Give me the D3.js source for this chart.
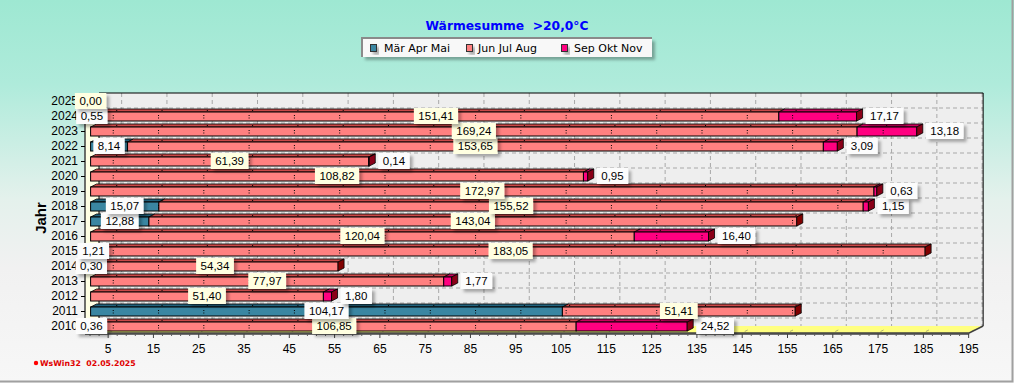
<!DOCTYPE html>
<html>
<head>
<meta charset="utf-8">
<script src="https://cdn.jsdelivr.net/npm/d3@7"></script>
<style>
  html, body { margin: 0; padding: 0; }
  body { width: 1014px; height: 383px; overflow: hidden; }
  svg { display: block; }
</style>
</head>
<body>
<div id="chart"></div>
<script>
// Wärmesumme >20,0°C per season, one stacked 3D bar per year
const years = ['2010', '2011', '2012', '2013', '2014', '2015', '2016', '2017',
  '2018', '2019', '2020', '2021', '2022', '2023', '2024', '2025'];
const marAprMai = [0.36, 104.17, null, null, 0.30, 1.21, null, 12.88,
  15.07, null, null, null, 8.14, null, 0.55, 0.00];
const junJulAug = [106.85, 51.41, 51.40, 77.97, 54.34, 183.05, 120.04, 143.04,
  155.52, 172.97, 108.82, 61.39, 153.65, 169.24, 151.41, null];
const sepOktNov = [24.52, null, 1.80, 1.77, null, null, 16.40, null,
  1.15, 0.63, 0.95, 0.14, 3.09, 13.18, 17.17, null];
const seriesNames = ['Mär Apr Mai', 'Jun Jul Aug', 'Sep Okt Nov'];
const xTickValues = [5, 15, 25, 35, 45, 55, 65, 75, 85, 95, 105, 115, 125, 135, 145, 155, 165, 175, 185, 195];

// colours per season: front face, top face, end cap
const seriesStyle = [
  { front: '#3a86a2', top: '#22627c', cap: '#123e50' },
  { front: '#ff8080', top: '#c84848', cap: '#800000' },
  { front: '#ff0080', top: '#c8005a', cap: '#8a0018' }
];

const W = 1014, H = 383;
const BX = 5.6, DX = 6, DY = -3;   // bar offset and bar depth
const WX = 14, WY = -7;            // wall depth
const wallTop = 93, floorY = 333;

const svg = d3.select('#chart').append('svg')
  .attr('width', W)
  .attr('height', H);

const defs = svg.append('defs');
const bg = defs.append('linearGradient')
  .attr('id', 'bg')
  .attr('x1', 0).attr('y1', 0).attr('x2', 0).attr('y2', 1);
bg.append('stop').attr('offset', '0%').attr('stop-color', '#9ee8d2');
bg.append('stop').attr('offset', '22%').attr('stop-color', '#afebdb');
bg.append('stop').attr('offset', '52%').attr('stop-color', '#e4f1ec');
bg.append('stop').attr('offset', '70%').attr('stop-color', '#f1f1f1');
bg.append('stop').attr('offset', '100%').attr('stop-color', '#f7f7f7');

const shadow = defs.append('filter')
  .attr('id', 'shadow')
  .attr('x', '-20%').attr('y', '-30%').attr('width', '150%').attr('height', '180%');
shadow.append('feDropShadow')
  .attr('dx', 3).attr('dy', 3)
  .attr('stdDeviation', 1.5)
  .attr('flood-color', '#000')
  .attr('flood-opacity', 0.3);

svg.append('rect')
  .attr('width', W)
  .attr('height', H)
  .attr('fill', 'url(#bg)');

// window frame
svg.append('path')
  .attr('d', `M${W - 1.5},0 V${H - 1.5} H0`)
  .attr('fill', 'none')
  .attr('stroke', '#a0a0a0')
  .attr('stroke-width', 2);

// title
svg.append('text')
  .attr('x', 507)
  .attr('y', 30)
  .attr('text-anchor', 'middle')
  .style('white-space', 'pre')
  .style('font-family', '"DejaVu Sans", Verdana, sans-serif')
  .style('font-weight', 'bold')
  .style('font-size', '12.3px')
  .attr('fill', '#0000ff')
  .text('Wärmesumme  >20,0°C');

// legend
const legend = svg.append('g').attr('transform', 'translate(362,38)');
legend.append('rect')
  .attr('width', 290)
  .attr('height', 19)
  .attr('fill', '#f8f8f8')
  .attr('filter', 'url(#shadow)');
legend.append('path')
  .attr('d', 'M0,19 V0 H290')
  .attr('fill', 'none')
  .attr('stroke', '#8a8a8a')
  .attr('stroke-width', 2);
const legendX = [[8, 22], [104, 116], [199, 212]];
seriesNames.forEach((name, i) => {
  legend.append('rect')
    .attr('x', legendX[i][0] + 0.5)
    .attr('y', 6.5)
    .attr('width', 6)
    .attr('height', 7)
    .attr('fill', seriesStyle[i].front)
    .attr('stroke', '#333')
    .attr('filter', 'url(#shadow)');
  legend.append('text')
    .attr('x', legendX[i][1])
    .attr('y', 14)
    .style('font-family', '"DejaVu Sans", Verdana, sans-serif')
    .style('font-size', '11px')
    .attr('fill', '#000')
    .text(name);
});

const x = d3.scaleLinear()
  .domain([0, 200])
  .range([85, 85 + 905.8]);

const y = d3.scalePoint()
  .domain(years)
  .range([326, 101]);

const x0 = x(0), xEnd = x(195) + 1;

// back wall, left wall and floor
svg.append('rect')
  .attr('x', x0 + WX)
  .attr('y', wallTop)
  .attr('width', xEnd - x0)
  .attr('height', floorY + WY - wallTop)
  .attr('fill', '#eeeeee');

const grid = svg.append('g')
  .attr('stroke', '#a8a8a8')
  .attr('stroke-dasharray', '4,3')
  .attr('fill', 'none');
grid.selectAll('.vgrid')
  .data(xTickValues)
  .enter()
  .append('line')
  .attr('x1', d => x(d) + WX)
  .attr('x2', d => x(d) + WX)
  .attr('y1', wallTop)
  .attr('y2', floorY + WY);
grid.selectAll('.hgrid')
  .data(years.slice(1))
  .enter()
  .append('line')
  .attr('x1', x0 + WX)
  .attr('x2', xEnd + WX)
  .attr('y1', d => y(d) + 7)
  .attr('y2', d => y(d) + 7);

svg.append('polygon')
  .attr('points', [[x0, wallTop - WY], [x0 + WX, wallTop], [x0 + WX, floorY + WY], [x0, floorY]].join(' '))
  .attr('fill', '#ffffe4');

svg.append('polygon')
  .attr('points', [[x0, floorY], [x0 + WX, floorY + WY], [xEnd + WX, floorY + WY], [xEnd, floorY]].join(' '))
  .attr('fill', '#ffff80');

svg.append('g')
  .attr('stroke', '#b0b070')
  .selectAll('line')
  .data(xTickValues)
  .enter()
  .append('line')
  .attr('x1', d => x(d) + 3)
  .attr('y1', floorY - 1.5)
  .attr('x2', d => x(d) + 6)
  .attr('y2', floorY - 3);

svg.append('path')
  .attr('d', `M${x0 + WX},${floorY + WY} V${wallTop} H${xEnd + WX} V${floorY + WY}`)
  .attr('fill', 'none')
  .attr('stroke', '#000');

svg.append('path')
  .attr('d', `M${x0},${wallTop - WY} V${floorY} H${xEnd} L${xEnd + WX},${floorY + WY}`)
  .attr('fill', 'none')
  .attr('stroke', '#404040')
  .attr('stroke-width', 1.5);

svg.append('line')
  .attr('x1', x0).attr('x2', xEnd)
  .attr('y1', floorY + 1).attr('y2', floorY + 1)
  .attr('stroke', '#404040')
  .attr('stroke-width', 1.5);

// axes
const yAxis = svg.append('g')
  .attr('transform', `translate(${x0},0)`)
  .call(d3.axisLeft(y).tickSize(4).tickPadding(3));
yAxis.select('.domain').remove();
yAxis.selectAll('text')
  .style('font-family', '"Liberation Sans", Arial, sans-serif')
  .style('font-size', '12px')
  .attr('fill', '#000');

const xAxis = svg.append('g')
  .attr('transform', `translate(0,${floorY + 1})`)
  .call(d3.axisBottom(x).tickValues(xTickValues).tickSize(4).tickPadding(6).tickFormat(d3.format('d')));
xAxis.select('.domain').remove();
xAxis.selectAll('line').attr('stroke', '#404040');
xAxis.selectAll('text')
  .style('font-family', '"Liberation Sans", Arial, sans-serif')
  .style('font-size', '12px')
  .attr('fill', '#000');

const minorTicks = d3.range(1, 196, 2).filter(v => !xTickValues.includes(v));
const xMinor = svg.append('g')
  .attr('transform', `translate(0,${floorY + 1})`)
  .call(d3.axisBottom(x).tickValues(minorTicks).tickSize(2).tickFormat(''));
xMinor.select('.domain').remove();
xMinor.selectAll('line').attr('stroke', '#606060');

svg.append('text')
  .attr('transform', 'translate(46,218) rotate(-90)')
  .attr('text-anchor', 'middle')
  .style('font-family', '"Liberation Sans", Arial, sans-serif')
  .style('font-weight', 'bold')
  .style('font-size', '15px')
  .attr('fill', '#000')
  .text('Jahr');

// build the stacked segments
const rows = years.map((year, i) => {
  const vals = [marAprMai[i], junJulAug[i], sepOktNov[i]];
  let start = 0;
  const segs = [];
  vals.forEach((v, s) => {
    if (v == null) return;
    segs.push({ s, v, start });
    start += v;
  });
  return { year, segs, total: start };
});

const bars = svg.append('g').attr('class', 'bars');

rows.forEach(row => {
  const yc = y(row.year);
  const yTop = yc - 4, yBot = yc + 5;
  const drawn = row.segs.filter(d => d.v > 0);

  drawn.forEach((d, k) => {
    const a = x(d.start) + BX;
    const b = x(d.start + d.v) + BX;
    const st = seriesStyle[d.s];

    bars.append('polygon')
      .attr('points', [[a, yTop], [a + DX, yTop + DY], [b + DX, yTop + DY], [b, yTop]].join(' '))
      .attr('fill', st.top)
      .attr('stroke', '#000')
      .attr('stroke-width', 0.8);

    bars.append('rect')
      .attr('x', a)
      .attr('y', yTop)
      .attr('width', b - a)
      .attr('height', yBot - yTop)
      .attr('fill', st.front)
      .attr('stroke', '#000')
      .attr('stroke-width', 1);

    if (k === drawn.length - 1) {
      bars.append('polygon')
        .attr('points', [[b, yTop], [b + DX, yTop + DY], [b + DX, yBot + DY], [b, yBot]].join(' '))
        .attr('fill', st.cap)
        .attr('stroke', '#000')
        .attr('stroke-width', 0.8);
    }
  });

  // small tick marks showing through the bar
  xTickValues
    .filter(v => v < row.total)
    .forEach(v => {
      bars.append('line')
        .attr('x1', x(v) + BX).attr('x2', x(v) + BX)
        .attr('y1', yc - 1).attr('y2', yc + 3)
        .attr('stroke', '#000')
        .attr('stroke-dasharray', '1,1.5');
      bars.append('rect')
        .attr('x', x(v) + BX + 3)
        .attr('y', yTop - 2)
        .attr('width', 1)
        .attr('height', 1)
        .attr('fill', '#000');
    });
});

// value labels
const fmt = v => d3.format('.2f')(v).replace('.', ',');
const labels = svg.append('g').attr('class', 'labels');

function addLabel(text, cx, left, yc, fill) {
  const g = labels.append('g');
  const t = g.append('text')
    .attr('y', yc)
    .attr('dy', '0.36em')
    .style('font-family', '"Liberation Sans", Arial, sans-serif')
    .style('font-size', '11.5px')
    .attr('fill', '#000')
    .text(text);
  const w = t.node().getComputedTextLength() + 9;
  const bx = left != null ? left : cx - w / 2;
  t.attr('x', bx + 4.5);
  g.insert('rect', 'text')
    .attr('x', bx)
    .attr('y', yc - 8)
    .attr('width', w)
    .attr('height', 16)
    .attr('fill', fill)
    .attr('filter', 'url(#shadow)');
}

rows.forEach(row => {
  const yc = y(row.year);
  row.segs.forEach(d => {
    if (d.s === 2) {
      addLabel(fmt(d.v), null, x(d.start + d.v) + BX + DX + 3, yc, '#fcfcfc');
    } else {
      // zero values get the cream box like the summer labels
      const fill = d.s === 1 || d.v === 0 ? '#ffffe1' : '#fcfcfc';
      addLabel(fmt(d.v), x(d.start + d.v / 2) + BX, null, yc, fill);
    }
  });
});

// footer stamp
svg.append('circle')
  .attr('cx', 36)
  .attr('cy', 363)
  .attr('r', 2.2)
  .attr('fill', '#ff0000');
svg.append('text')
  .attr('x', 40)
  .attr('y', 365.5)
  .style('white-space', 'pre')
  .style('font-family', '"DejaVu Sans", Verdana, sans-serif')
  .style('font-weight', 'bold')
  .style('font-size', '7.8px')
  .attr('fill', '#e00000')
  .text('WsWin32  02.05.2025');
</script>
</body>
</html>
